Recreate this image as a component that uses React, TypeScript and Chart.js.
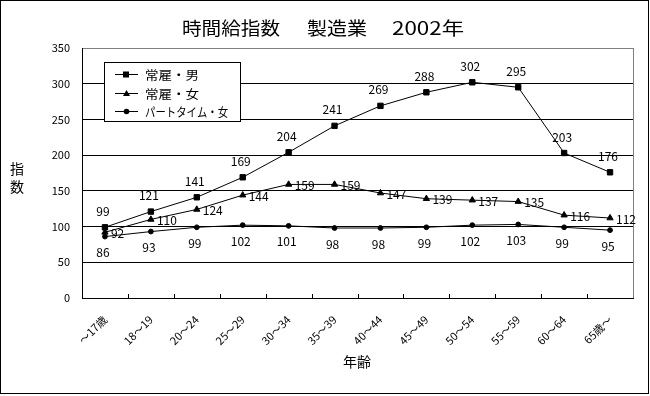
import React, { useEffect, useRef } from "react";
import { Chart, registerables } from "chart.js";

Chart.register(...registerables);

const categories = ["～17歳", "18～19", "20～24", "25～29", "30～34", "35～39", "40～44", "45～49", "50～54", "55～59", "60～64", "65歳～"];
const regularMen = [99, 121, 141, 169, 204, 241, 269, 288, 302, 295, 203, 176];
const regularWomen = [92, 110, 124, 144, 159, 159, 147, 139, 137, 135, 116, 112];
const partTimeWomen = [86, 93, 99, 102, 101, 98, 98, 99, 102, 103, 99, 95];
const seriesNames = ["常雇・男", "常雇・女", "パートタイム・女"];
const titleParts = ["時間給指数", "製造業", "2002年"];
const yTicks = [0, 50, 100, 150, 200, 250, 300, 350];

const FONT = '"Noto Sans CJK JP", "Noto Sans", sans-serif';

function fitText(ctx: any, text: string, x: number, y: number, width: number) {
  const w = ctx.measureText(text).width;
  ctx.save();
  ctx.translate(x, y);
  ctx.scale(width / w, 1);
  ctx.fillText(text, 0, 0);
  ctx.restore();
}

const decorPlugin = {
  id: "decor",
  beforeDraw(chart: any) {
    const ctx = chart.ctx;
    ctx.save();
    ctx.fillStyle = "#fff";
    ctx.fillRect(0, 0, chart.width, chart.height);
    ctx.restore();
  },
  afterDatasetsDraw(chart: any) {
    const ctx = chart.ctx;
    const area = chart.chartArea;
    ctx.save();
    ctx.strokeStyle = "#808080";
    ctx.lineWidth = 1;
    ctx.beginPath();
    ctx.moveTo(Math.round(area.right) + 0.5, area.top);
    ctx.lineTo(Math.round(area.right) + 0.5, area.bottom);
    ctx.stroke();
    const n = categories.length;
    const step = (area.right - area.left) / n;
    ctx.strokeStyle = "#000";
    for (let i = 1; i < n; i++) {
      const x = Math.round(area.left + step * i) + 0.5;
      ctx.beginPath();
      ctx.moveTo(x, area.bottom);
      ctx.lineTo(x, area.bottom - 4);
      ctx.stroke();
    }
    ctx.fillStyle = "#000";
    ctx.font = "12px " + FONT;
    const m0 = chart.getDatasetMeta(0);
    const m1 = chart.getDatasetMeta(1);
    const m2 = chart.getDatasetMeta(2);
    ctx.textBaseline = "middle";
    ctx.textAlign = "center";
    m0.data.forEach((p: any, i: number) => {
      ctx.fillText(String(regularMen[i]), p.x - 2, p.y - 16);
    });
    m2.data.forEach((p: any, i: number) => {
      ctx.fillText(String(partTimeWomen[i]), p.x - 2, p.y + 16);
    });
    ctx.textAlign = "left";
    m1.data.forEach((p: any, i: number) => {
      ctx.fillText(String(regularWomen[i]), p.x + 6, p.y + 1);
    });
    ctx.restore();
  },
  afterDraw(chart: any) {
    const ctx = chart.ctx;
    ctx.save();
    ctx.strokeStyle = "#000";
    ctx.lineWidth = 1;
    ctx.strokeRect(0.5, 0.5, 648, 393);
    // title
    ctx.fillStyle = "#000";
    ctx.textAlign = "center";
    ctx.textBaseline = "middle";
    ctx.font = "18px " + FONT;
    const tCenters = [231, 337, 428];
    const tWidths = [98, 60, 72];
    titleParts.forEach((t, i) => {
      ctx.textAlign = "left";
      fitText(ctx, t, tCenters[i] - tWidths[i] / 2, 28, tWidths[i]);
    });
    ctx.textAlign = "center";
    // axis titles
    ctx.font = "14px " + FONT;
    ctx.fillText("指", 17, 169);
    ctx.fillText("数", 17, 187);
    ctx.fillText("年齢", 357, 362);
    // legend
    const lx = 104, ly = 62, lw = 136, lh = 59;
    ctx.fillStyle = "#fff";
    ctx.fillRect(lx, ly, lw, lh);
    ctx.strokeStyle = "#000";
    ctx.strokeRect(lx + 0.5, ly + 0.5, lw, lh);
    const rows = [74, 93, 111];
    const textWidths = [54, 54, 83];
    ctx.font = "12px " + FONT;
    rows.forEach((y, i) => {
      ctx.strokeStyle = "#000";
      ctx.beginPath();
      ctx.moveTo(115, y + 0.5);
      ctx.lineTo(138, y + 0.5);
      ctx.stroke();
      ctx.fillStyle = "#000";
      if (i === 0) {
        ctx.fillRect(123, y - 2.5, 6, 6);
      } else if (i === 1) {
        ctx.beginPath();
        ctx.moveTo(126.5, y - 3);
        ctx.lineTo(130, y + 3);
        ctx.lineTo(123, y + 3);
        ctx.closePath();
        ctx.fill();
      } else {
        ctx.beginPath();
        ctx.arc(126.5, y + 0.5, 2.8, 0, Math.PI * 2);
        ctx.fill();
      }
      ctx.textAlign = "left";
      fitText(ctx, seriesNames[i], 145, y + 1, textWidths[i]);
    });
    ctx.restore();
  },
};

export default function App() {
  const ref = useRef<HTMLCanvasElement>(null);
  useEffect(() => {
    if (!ref.current) return;
    const common = {
      borderColor: "#000",
      backgroundColor: "#000",
      borderWidth: 1,
      pointBorderColor: "#000",
      pointBackgroundColor: "#000",
      pointBorderWidth: 1,
      tension: 0,
    };
    const chart = new Chart(ref.current, {
      type: "line",
      data: {
        labels: categories,
        datasets: [
          { ...common, label: seriesNames[0], data: regularMen, pointStyle: "rect", pointRadius: 3.8 },
          { ...common, label: seriesNames[1], data: regularWomen, pointStyle: "triangle", pointRadius: 3.6 },
          { ...common, label: seriesNames[2], data: partTimeWomen, pointStyle: "circle", pointRadius: 2.4 },
        ],
      },
      options: {
        responsive: false,
        animation: false,
        layout: { autoPadding: false, padding: { left: 0, top: 48, right: 17, bottom: 0 } },
        plugins: { legend: { display: false }, title: { display: false }, tooltip: { enabled: false } },
        scales: {
          x: {
            type: "category",
            offset: true,
            grid: { display: false, drawTicks: false },
            border: { display: true, color: "#000", width: 1 },
            ticks: {
              autoSkip: false,
              maxRotation: 45,
              minRotation: 45,
              padding: 15,
              color: "#000",
              font: { family: FONT, size: 11 },
            },
            afterFit: (s: any) => {
              s.height = 98;
            },
          },
          y: {
            min: 0,
            max: 350,
            afterBuildTicks: (s: any) => {
              s.ticks = yTicks.map((v) => ({ value: v }));
            },
            grid: {
              drawTicks: false,
              color: (c: any) => (c.tick && c.tick.value === 350 ? "#808080" : "#000"),
              lineWidth: 1,
            },
            border: { display: true, color: "#000", width: 1 },
            ticks: {
              padding: 12,
              color: "#000",
              font: { family: FONT, size: 11 },
            },
            afterFit: (s: any) => {
              s.width = 82;
            },
          },
        },
      },
      plugins: [decorPlugin],
    });
    return () => chart.destroy();
  }, []);
  return (
    <div style={{ position: "absolute", left: 0, top: 0, width: 650, height: 396 }}>
      <canvas ref={ref} width={650} height={396} style={{ display: "block" }} />
    </div>
  );
}
